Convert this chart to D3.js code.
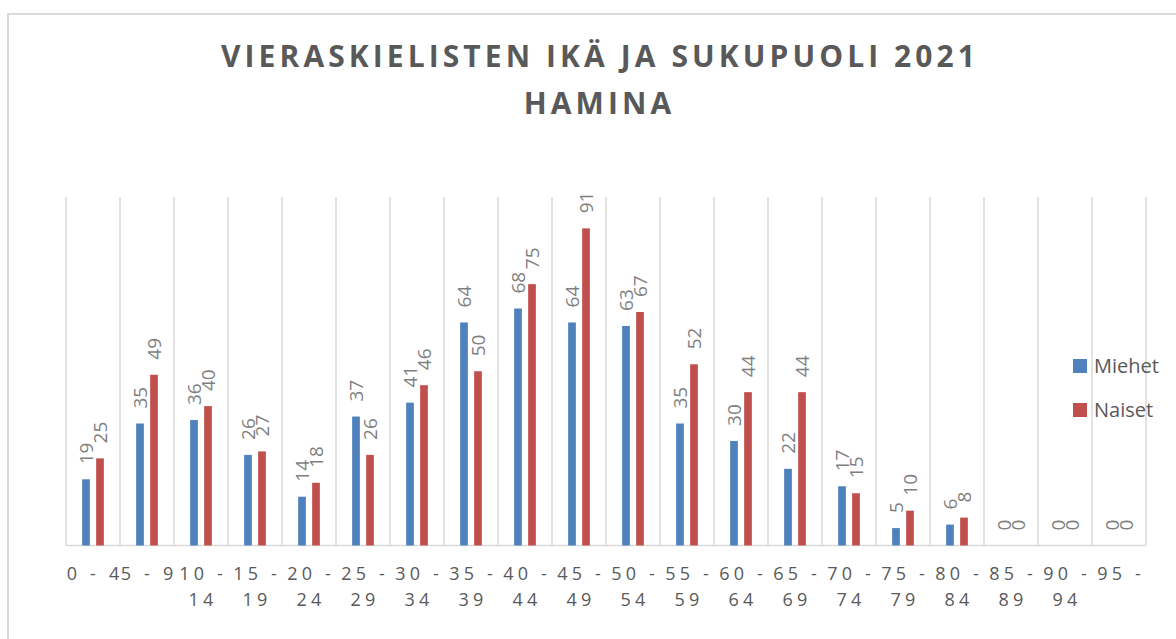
<!DOCTYPE html>
<html>
<head>
<meta charset="utf-8">
<script src="https://cdn.jsdelivr.net/npm/d3@7"></script>
<style>
  html, body { margin: 0; padding: 0; background: #fff; }
  svg { display: block; }
  text { font-family: "Open Sans", "Noto Sans", sans-serif; }
</style>
</head>
<body>
<svg id="chart" width="1176" height="639"></svg>
<script>
const categories = ["0 - 4","5 - 9","10 - 14","15 - 19","20 - 24","25 - 29","30 - 34","35 - 39","40 - 44","45 - 49","50 - 54","55 - 59","60 - 64","65 - 69","70 - 74","75 - 79","80 - 84","85 - 89","90 - 94","95 -"];
const seriesNames = ["Miehet", "Naiset"];
const miehet = [19,35,36,26,14,37,41,64,68,64,63,35,30,22,17,5,6,0,0,0];
const naiset = [25,49,40,27,18,26,46,50,75,91,67,52,44,44,15,10,8,0,0,0];
const titleLines = ["VIERASKIELISTEN IKÄ JA SUKUPUOLI 2021", "HAMINA"];
const colors = ["#4F81BD", "#C0504D"];

const svg = d3.select("#chart");

// outer chart frame
svg.append("rect")
  .attr("x", 8).attr("y", 14).attr("width", 1200).attr("height", 700)
  .attr("fill", "none").attr("stroke", "#d9d9d9").attr("stroke-width", 2);

const plot = { left: 66, right: 1146, top: 197, bottom: 545.5 };

const x0 = d3.scaleBand().domain(categories).range([plot.left, plot.right]).paddingInner(0).paddingOuter(0);
const x1 = d3.scaleBand().domain(seriesNames).range([0, x0.bandwidth()]).paddingInner(0.45).paddingOuter(1.153);
const y = d3.scaleLinear().domain([0, 100]).range([plot.bottom, plot.top]);

// vertical gridlines at category boundaries
const bounds = categories.map(c => x0(c)).concat([plot.right]);
svg.append("g").selectAll("line").data(bounds).join("line")
  .attr("x1", d => d).attr("x2", d => d)
  .attr("y1", y(100)).attr("y2", y(0))
  .attr("stroke", "#d9d9d9").attr("stroke-width", 1.5);

// baseline axis
svg.append("line")
  .attr("x1", plot.left).attr("x2", plot.right)
  .attr("y1", y(0)).attr("y2", y(0))
  .attr("stroke", "#d9d9d9").attr("stroke-width", 1.5);

const data = categories.map((c, i) => ({
  cat: c,
  vals: [{ s: "Miehet", v: miehet[i] }, { s: "Naiset", v: naiset[i] }]
}));

const groups = svg.append("g").selectAll("g").data(data).join("g")
  .attr("transform", d => `translate(${x0(d.cat)},0)`);

groups.selectAll("rect").data(d => d.vals).join("rect")
  .attr("x", d => x1(d.s))
  .attr("width", x1.bandwidth())
  .attr("y", d => y(d.v))
  .attr("height", d => y(0) - y(d.v))
  .attr("fill", d => colors[seriesNames.indexOf(d.s)]);

groups.selectAll("text").data(d => d.vals).join("text")
  .attr("transform", d => `translate(${x1(d.s) + x1.bandwidth() / 2},${y(d.v) - 15}) rotate(-90)`)
  .attr("text-anchor", "start")
  .attr("dominant-baseline", "central")
  .attr("font-size", 19)
  .attr("fill", "#7f7f7f")
  .text(d => d.v);

// x-axis labels (wrapped like Excel)
const LS = 4.2;
const xl = svg.append("g").selectAll("text").data(categories).join("text")
  .attr("text-anchor", "middle")
  .attr("font-size", 18)
  .attr("fill", "#595959")
  .attr("letter-spacing", LS)
  .attr("x", d => x0(d) + x0.bandwidth() / 2 + LS / 2)
  .attr("y", 580);
xl.each(function(d) {
  const t = d3.select(this);
  const parts = d.split(" - ");
  let lines;
  if (parts.length === 2 && parts[0].length === 1) lines = [d];
  else if (parts.length === 2 && parts[1] !== "") lines = [parts[0] + " -", parts[1]];
  else lines = [d];
  lines.forEach((ln, i) => {
    t.append("tspan")
      .attr("x", x0(d) + x0.bandwidth() / 2 + LS / 2)
      .attr("dy", i === 0 ? 0 : 26)
      .text(ln);
  });
});

// title
const title = svg.append("g");
const t1 = title.append("text")
  .attr("x", 598).attr("y", 67)
  .attr("text-anchor", "middle")
  .attr("font-size", 30).attr("font-weight", "bold")
  .attr("fill", "#595959")
  .text(titleLines[0]);
const natural = t1.node().getComputedTextLength();
const n1 = titleLines[0].length;
const ls = (754 - natural) / (n1 - 1);
t1.attr("letter-spacing", ls).attr("x", 598 + ls / 2);
title.append("text")
  .attr("x", 597.5 + ls / 2).attr("y", 114)
  .attr("text-anchor", "middle")
  .attr("font-size", 30).attr("font-weight", "bold")
  .attr("fill", "#595959")
  .attr("letter-spacing", ls)
  .text(titleLines[1]);

// legend
const legend = svg.append("g").selectAll("g").data(seriesNames).join("g")
  .attr("transform", (d, i) => `translate(1073,${359 + i * 44})`);
legend.append("rect").attr("width", 14).attr("height", 14)
  .attr("fill", (d, i) => colors[i]);
legend.append("text")
  .attr("x", 21).attr("y", 14)
  .attr("font-size", 20)
  .attr("fill", "#595959")
  .text(d => d);
</script>
</body>
</html>
